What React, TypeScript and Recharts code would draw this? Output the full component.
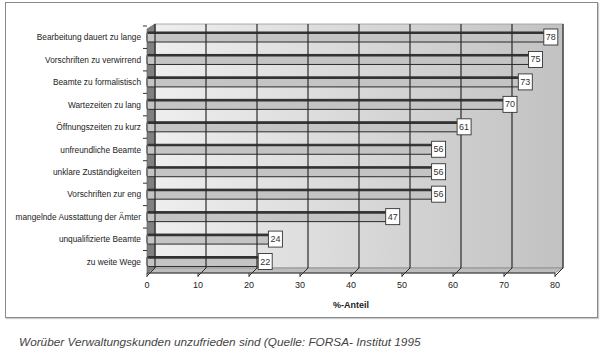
import React from 'react';
import { BarChart, Bar, XAxis, YAxis, ReferenceArea, ReferenceLine, LabelList } from 'recharts';

document.body.style.margin = '0';

const categories = [
  'Bearbeitung dauert zu lange',
  'Vorschriften zu verwirrend',
  'Beamte zu formalistisch',
  'Wartezeiten zu lang',
  'Öffnungszeiten zu kurz',
  'unfreundliche Beamte',
  'unklare Zuständigkeiten',
  'Vorschriften zur eng',
  'mangelnde Ausstattung der Ämter',
  'unqualifizierte Beamte',
  'zu weite Wege',
];
const shares = [78, 75, 73, 70, 61, 56, 56, 56, 47, 24, 22];
const xTicks = [0, 10, 20, 30, 40, 50, 60, 70, 80];

const chartData = categories.map((name, i) => ({ name, anteil: shares[i] }));

const DX = 8;
const DY = 5;
const FONT = '"Liberation Sans", Arial, sans-serif';

const Wall = (props: any) => {
  const { x, y, width, height } = props;
  const bottom = y + height;
  return (
    <g>
      <rect x={x + DX} y={y - 2} width={width} height={height - DY + 2} fill="url(#wallGrad)" stroke="#999" strokeWidth={0.8} />
      <polygon
        points={`${x},${y + 3} ${x + DX},${y - 2} ${x + DX},${bottom - DY} ${x},${bottom}`}
        fill="#808080"
        stroke="#555"
        strokeWidth={0.6}
      />
      <polygon
        points={`${x},${bottom} ${x + DX},${bottom - DY} ${x + width + DX},${bottom - DY} ${x + width},${bottom}`}
        fill="#bdbdbd"
        stroke="#777"
        strokeWidth={0.6}
      />
    </g>
  );
};

const GridLine = (props: any) => {
  const { x1, y1, y2 } = props;
  const top = Math.min(y1, y2);
  const bottom = Math.max(y1, y2);
  return (
    <g>
      <line x1={x1 + DX} y1={top - 2} x2={x1 + DX} y2={bottom - DY} stroke="#2a2a2a" strokeWidth={1.2} />
      <line x1={x1} y1={bottom + 3} x2={x1 + DX} y2={bottom - DY} stroke="#2a2a2a" strokeWidth={1} />
    </g>
  );
};

const Bar3D = (props: any) => {
  const { x, y, width, height } = props;
  return (
    <g>
      <rect x={x} y={y} width={width} height={height} rx={1.5} fill="#c4c4c4" stroke="#2a2a2a" strokeWidth={1} />
      <line x1={x + 1} y1={y + 1} x2={x + width} y2={y + 1} stroke="#333" strokeWidth={2.2} />
    </g>
  );
};

const ValueBox = (props: any) => {
  const { x, y, width, height, value } = props;
  const cy = y + height / 2;
  return (
    <g>
      <rect x={x + width - 1} y={cy - 8} width={14} height={16} fill="#fff" stroke="#333" strokeWidth={0.9} />
      <text x={x + width + 6} y={cy + 3} textAnchor="middle" fontSize={9} fontFamily={FONT} fill="#333">
        {value}
      </text>
    </g>
  );
};

const CategoryTick = (props: any) => {
  const { x, y, payload } = props;
  const half = payload && payload.offset ? payload.offset : 11;
  return (
    <g>
      <line x1={x - 4} y1={y - half} x2={x} y2={y - half} stroke="#333" strokeWidth={1} />
      <text x={x - 6} y={y + 3} textAnchor="end" fontSize={8.3} fontFamily={FONT} fill="#222">
        {payload.value}
      </text>
    </g>
  );
};

export default function App() {
  return (
    <div style={{ position: 'relative', width: 600, height: 360, background: '#fff', fontFamily: FONT }}>
      <div
        style={{
          position: 'absolute',
          left: 5,
          top: 2,
          width: 591,
          height: 314,
          border: '1px solid #8a8a8a',
          boxShadow: '1px 1px 1px #ccc',
        }}
      />
      <div style={{ position: 'absolute', left: 0, top: 0 }}>
        <BarChart
          width={600}
          height={320}
          data={chartData}
          layout="vertical"
          margin={{ top: 26, right: 45, bottom: 7, left: 0 }}
          barSize={10}
        >
          <defs>
            <linearGradient id="wallGrad" x1="0" y1="0" x2="1" y2="0">
              <stop offset="0%" stopColor="#eeeeee" />
              <stop offset="55%" stopColor="#d6d6d6" />
              <stop offset="100%" stopColor="#c2c2c2" />
            </linearGradient>
          </defs>
          <ReferenceArea x1={0} x2={80} ifOverflow="visible" shape={Wall} />
          {xTicks.map((t) => (
            <ReferenceLine key={t} x={t} ifOverflow="visible" shape={GridLine} />
          ))}
          <XAxis
            type="number"
            domain={[0, 80]}
            ticks={xTicks}
            interval={0}
            tickSize={4}
            tickLine={{ stroke: '#333' }}
            axisLine={{ stroke: '#333' }}
            tick={{ fontSize: 9, fill: '#222', fontFamily: FONT }}
            tickMargin={5}
            height={40}
            label={{ value: '%-Anteil', position: 'insideBottom', offset: 5, fontSize: 9, fontWeight: 'bold', fill: '#222', fontFamily: FONT }}
          />
          <YAxis
            type="category"
            dataKey="name"
            width={147}
            axisLine={false}
            tickLine={false}
            tickSize={0}
            tickMargin={0}
            tick={<CategoryTick />}
            interval={0}
          />
          <Bar dataKey="anteil" shape={<Bar3D />} isAnimationActive={false}>
            <LabelList dataKey="anteil" content={<ValueBox />} />
          </Bar>
        </BarChart>
      </div>
      <div
        style={{
          position: 'absolute',
          left: 19,
          top: 335,
          fontSize: 11.8,
          fontStyle: 'italic',
          color: '#444',
          whiteSpace: 'nowrap',
        }}
      >
        Worüber Verwaltungskunden unzufrieden sind (Quelle: FORSA- Institut 1995
      </div>
    </div>
  );
}
